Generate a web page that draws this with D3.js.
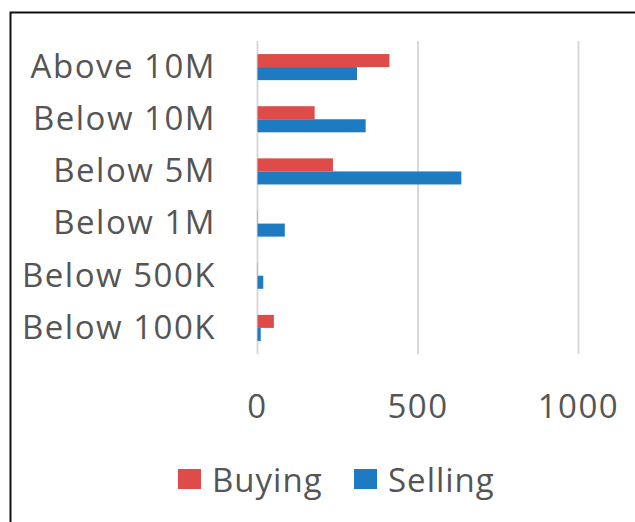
<!DOCTYPE html>
<meta charset="utf-8">
<script src="https://d3js.org/d3.v7.min.js"></script>
<style>
  body { margin: 0; background: #fff; }
  text { font-family: "Open Sans", sans-serif; fill: #555; }
</style>
<div id="my_dataviz"></div>
<script>

// data
var categories = ["Above 10M", "Below 10M", "Below 5M", "Below 1M", "Below 500K", "Below 100K"]
var buying = [411, 178, 235, 1, 1, 51]
var selling = [310, 337, 635, 85, 18, 10]
var seriesNames = ["Buying", "Selling"]
var tickValues = [0, 500, 1000]

var width = 635,
    height = 522

var colors = ["#DE4C4A", "#1F7BC1"]

var svg = d3.select("#my_dataviz")
  .append("svg")
    .attr("width", width)
    .attr("height", height)

// outer frame (right and bottom edges run off the picture)
svg.append("rect")
  .attr("x", 10.5).attr("y", 12.5)
  .attr("width", 700).attr("height", 600)
  .attr("fill", "none")
  .attr("stroke", "#111")
  .attr("stroke-width", 2)

var x = d3.scaleLinear()
  .domain([0, 1000])
  .range([257.5, 578.5])

var y = d3.scaleBand()
  .domain(categories)
  .range([41, 354])
  .paddingInner(0.5)
  .paddingOuter(0.25)

var ySub = d3.scaleBand()
  .domain(seriesNames)
  .range([0, y.bandwidth()])

// gridlines
svg.append("g")
  .selectAll("line")
  .data(tickValues)
  .enter()
  .append("line")
    .attr("x1", function(d) { return x(d) })
    .attr("x2", function(d) { return x(d) })
    .attr("y1", 41)
    .attr("y2", 354)
    .attr("stroke", "#d9d9d9")
    .attr("stroke-width", 2)

// bars
var rows = categories.map(function(c, i) {
  return [{key: "Buying", cat: c, value: buying[i]}, {key: "Selling", cat: c, value: selling[i]}]
})

svg.append("g")
  .selectAll("g")
  .data(rows)
  .enter()
  .append("g")
    .attr("transform", function(d) { return "translate(0," + y(d[0].cat) + ")" })
  .selectAll("rect")
  .data(function(d) { return d })
  .enter()
  .append("rect")
    .attr("x", x(0))
    .attr("y", function(d) { return ySub(d.key) })
    .attr("width", function(d) { return x(d.value) - x(0) })
    .attr("height", ySub.bandwidth())
    .attr("fill", function(d, i) { return colors[i] })

// category labels
svg.append("g")
  .selectAll("text")
  .data(categories)
  .enter()
  .append("text")
    .attr("x", 216)
    .attr("y", function(d) { return y(d) + y.bandwidth() / 2 })
    .attr("dy", "0.33em")
    .attr("text-anchor", "end")
    .style("font-size", "33px")
    .style("letter-spacing", "1.5px")
    .text(function(d) { return d })

// tick labels
svg.append("g")
  .selectAll("text")
  .data(tickValues)
  .enter()
  .append("text")
    .attr("x", function(d) { return x(d) })
    .attr("y", 418)
    .attr("text-anchor", "middle")
    .style("font-size", "33px")
    .style("letter-spacing", "1.5px")
    .text(function(d) { return d })

// legend
var legendX = [178, 354]
var legend = svg.append("g")
  .selectAll("g")
  .data(seriesNames)
  .enter()
  .append("g")
    .attr("transform", function(d, i) { return "translate(" + legendX[i] + ",469)" })

legend.append("rect")
  .attr("width", 23)
  .attr("height", 20)
  .attr("fill", function(d, i) { return colors[i] })

legend.append("text")
  .attr("x", 34)
  .attr("y", 22.5)
  .style("font-size", "33px")
  .style("letter-spacing", "1px")
  .text(function(d) { return d })

</script>
